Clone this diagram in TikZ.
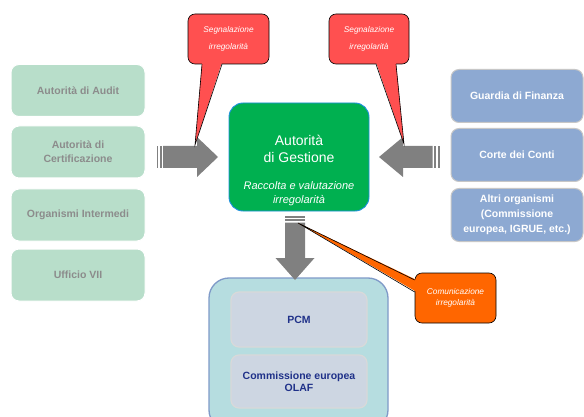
\documentclass[tikz,border=0pt]{standalone}
\usepackage{fontspec}
\setmainfont{Liberation Sans}
\usetikzlibrary{calc}
\definecolor{lgreen}{HTML}{B8DECA}
\definecolor{lgraytxt}{HTML}{8C8C8C}
\definecolor{agreen}{HTML}{00B050}
\definecolor{ablue}{HTML}{1E90E0}
\definecolor{rblue}{HTML}{8DA9D2}
\definecolor{cred}{HTML}{FF5050}
\definecolor{corange}{HTML}{FF6600}
\definecolor{arrgray}{HTML}{808080}
\definecolor{ctealfill}{HTML}{B6DDE0}
\definecolor{cframe}{HTML}{7F9AC8}
\definecolor{cinner}{HTML}{CDD6E2}
\definecolor{cnavy}{HTML}{1F3189}
\begin{document}
\begin{tikzpicture}[x=1pt,y=-1pt,
  leftbox/.style={rounded corners=8pt, fill=lgreen, draw=white, line width=1pt,
    minimum width=134pt, minimum height=52pt, text=lgraytxt,
    font=\bfseries\fontsize{10.5}{14}\selectfont, align=center, inner sep=2pt},
  rightbox/.style={rounded corners=8pt, fill=rblue, draw=black!22, line width=1pt,
    minimum width=132pt, minimum height=53pt, text=white,
    font=\bfseries\fontsize{10.5}{15}\selectfont, align=center, inner sep=2pt},
  agbox/.style={rounded corners=14pt, fill=agreen, draw=ablue, line width=0.9pt,
    minimum width=140pt, minimum height=108pt},
  container/.style={rounded corners=20pt, fill=ctealfill, draw=cframe, line width=1.3pt,
    minimum width=179pt, minimum height=152pt},
  innerbox/.style={rounded corners=8pt, fill=cinner, draw=black!15, line width=1.2pt,
    minimum width=136pt, text=cnavy, font=\bfseries\fontsize{10.5}{12.5}\selectfont,
    align=center, inner sep=2pt},
  callout/.style={rounded corners=7pt, draw=black, line width=0.6pt, text=white,
    minimum width=81pt, minimum height=50pt, align=center, inner sep=1pt},
  tailline/.style={draw=black, line width=0.6pt},
  blockarrow/.style={fill=arrgray}
]
\useasboundingbox (0,0) rectangle (584,417);
\fill[white] (0,0) rectangle (584,417);

% left column
\node[leftbox] (aud) at (78,90.5) {Autorità di Audit};
\node[leftbox] (cert) at (78,152) {Autorità di\\Certificazione};
\node[leftbox] (oi) at (78,215) {Organismi Intermedi};
\node[leftbox] (uff) at (78,275) {Ufficio VII};

% right column
\node[rightbox] (gdf) at (517,96) {Guardia di Finanza};
\node[rightbox] (cdc) at (517,155) {Corte dei Conti};
\node[rightbox] (altri) at (517,215) {Altri organismi\\(Commissione\\europea, IGRUE, etc.)};

% centre
\node[agbox] (ag) at (299,157) {};
\node[text=white, font=\fontsize{14}{17}\selectfont, align=center, inner sep=0pt] (agt) at ($(ag.center)+(0,-8.5)$) {Autorità\\di Gestione};
\node[text=white, font=\itshape\fontsize{11}{14}\selectfont, align=center, inner sep=0pt] (ags) at ($(ag.center)+(0,37)$) {Raccolta e valutazione\\irregolarità};

% bottom container
\node[container] (cont) at (298.5,354) {};
\node[innerbox, minimum height=55pt] (pcm) at (299,319.5) {PCM};
\node[innerbox, minimum height=53pt] (olaf) at (299,381.5) {Commissione europea\\OLAF};

% block arrow left -> centre
\fill[blockarrow] (156.5,146) rectangle (158,168);
\fill[blockarrow] (159.5,146) rectangle (161.5,168);
\fill[blockarrow] (163,146) -- (197,146) -- (197,137) -- (218,157) -- (197,177) -- (197,168) -- (163,168) -- cycle;

% block arrow right -> centre
\fill[blockarrow] (438,146) rectangle (439.5,168);
\fill[blockarrow] (434,146) rectangle (436,168);
\fill[blockarrow] (432.5,146) -- (403,146) -- (403,137) -- (379,157) -- (403,177) -- (403,168) -- (432.5,168) -- cycle;

% block arrow centre -> bottom
\fill[blockarrow] (285,216) rectangle (305,217.5);
\fill[blockarrow] (285,219) rectangle (305,221);
\fill[blockarrow] (285,222.5) -- (305,222.5) -- (305,258) -- (314.5,258) -- (295,280) -- (275.5,258) -- (285,258) -- cycle;

% callouts
\node[callout, fill=cred, font=\itshape\fontsize{8.3}{17}\selectfont] (sig1) at (228.5,39) {Segnalazione\\irregolarità};
\coordinate (tip1) at (195,145);
\fill[cred] ($(sig1.south)+(-26.5,-2)$) -- (tip1) -- ($(sig1.south)+(-6.5,-2)$) -- cycle;
\draw[tailline] ($(sig1.south)+(-26.5,0)$) -- (tip1) -- ($(sig1.south)+(-6.5,0)$);

\node[callout, fill=cred, font=\itshape\fontsize{8.3}{17}\selectfont, minimum width=80pt] (sig2) at (369,39) {Segnalazione\\irregolarità};
\coordinate (tip2) at (404,144);
\fill[cred] ($(sig2.south)+(7,-2)$) -- (tip2) -- ($(sig2.south)+(27,-2)$) -- cycle;
\draw[tailline] ($(sig2.south)+(7,0)$) -- (tip2) -- ($(sig2.south)+(27,0)$);

\node[callout, fill=corange, font=\itshape\fontsize{8.3}{10.5}\selectfont] (com) at (455.5,298) {Comunicazione\\irregolarità};
\coordinate (tip3) at (298,223);
\fill[corange] ($(com.west)+(2,-18)$) -- (tip3) -- ($(com.west)+(2,-6)$) -- cycle;
\draw[tailline] ($(com.west)+(0,-18)$) -- (tip3) -- ($(com.west)+(0,-6)$);
\end{tikzpicture}
\end{document}
